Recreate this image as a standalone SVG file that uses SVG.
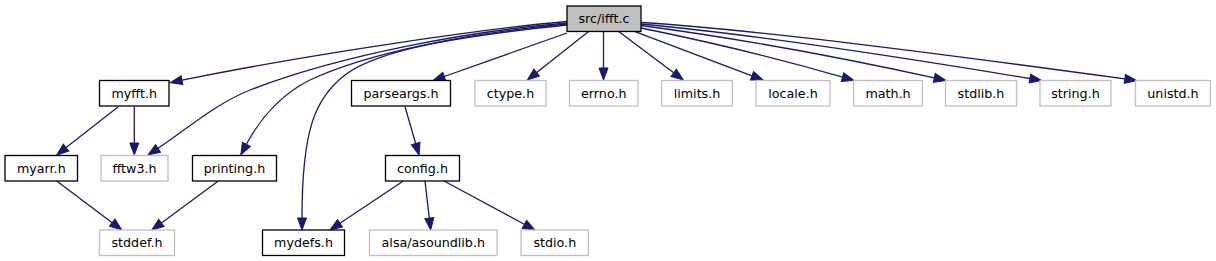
<svg xmlns="http://www.w3.org/2000/svg" width="1216" height="261" viewBox="0 0 1216 261">
<style>
.n rect{fill:#ffffff;stroke:#000000;stroke-width:1.3}
.x rect{fill:#ffffff;stroke:#bfbfbf;stroke-width:1.3}
.r rect{fill:#bfbfbf;stroke:#000000;stroke-width:1.3}
text{font-family:"DejaVu Sans",sans-serif;font-size:12.7px;fill:#000000;text-anchor:middle}
#edges path{fill:none;stroke:#191970;stroke-width:1.3;marker-end:url(#a)}
</style>
<defs>
<marker id="a" markerWidth="14" markerHeight="10" refX="0" refY="4.5" orient="auto" markerUnits="userSpaceOnUse" overflow="visible">
<path d="M0,0 L12,4.5 L0,9 z" fill="#191970" stroke="#191970" stroke-width="1"/>
</marker>
</defs>
<rect width="1216" height="261" fill="#ffffff"/>
<g id="edges">
<path d="M567,21.5 C500,27 320,52 182,80.2"/>
<path d="M567,23 C470,31 340,55 250,90 C215,104 188,128.4 158,148.4"/>
<path d="M567,24 C470,33 370,52 310,80 C285,92 262,115 246.4,144.3"/>
<path d="M567,25 C470,35 380,48 345,75 C315,98 302,130 302,218"/>
<path d="M567,33 L444.3,76.5"/>
<path d="M588.3,31.7 L536.7,72.6"/>
<path d="M603.5,31.7 L603.5,68"/>
<path d="M619,31.7 L673.7,72.8"/>
<path d="M635,31.7 L752,75.8"/>
<path d="M641,28 C700,40 760,53 842.5,77.1"/>
<path d="M641,25.5 C720,36 830,55 934.3,77.9"/>
<path d="M641,24 C740,33 900,57 1029.9,78.5"/>
<path d="M641,22.5 C760,30 950,55 1124.8,78.9"/>
<path d="M118.3,106.7 L66.1,147.6"/>
<path d="M134.3,106.7 L134.3,143"/>
<path d="M56.7,181 L112.2,222.7"/>
<path d="M218.3,181 L161.4,222.9"/>
<path d="M405,106.7 L415.7,143.5"/>
<path d="M403.3,181 L340,223.3"/>
<path d="M425,181 L429.3,218.1"/>
<path d="M444,181 L524.4,224.3"/>
</g>
<g id="root" class="r"><rect x="567" y="6" width="74" height="25.5"/><text x="604" y="23">src/ifft.c</text></g>
<g id="myfft" class="n"><rect x="99.5" y="80.5" width="69.5" height="25.5"/><text x="134.3" y="97.5">myfft.h</text></g>
<g id="parseargs" class="n"><rect x="351.5" y="80.5" width="99" height="25.5"/><text x="401" y="97.5">parseargs.h</text></g>
<g id="ctype" class="x"><rect x="475" y="80.5" width="71" height="25.5"/><text x="510.5" y="97.5">ctype.h</text></g>
<g id="errno" class="x"><rect x="569.5" y="80.5" width="68.5" height="25.5"/><text x="603.8" y="97.5">errno.h</text></g>
<g id="limits" class="x"><rect x="661.5" y="80.5" width="71" height="25.5"/><text x="697" y="97.5">limits.h</text></g>
<g id="locale" class="x"><rect x="756" y="80.5" width="74" height="25.5"/><text x="793" y="97.5">locale.h</text></g>
<g id="math" class="x"><rect x="853.5" y="80.5" width="69" height="25.5"/><text x="888" y="97.5">math.h</text></g>
<g id="stdlib" class="x"><rect x="945.5" y="80.5" width="71" height="25.5"/><text x="981" y="97.5">stdlib.h</text></g>
<g id="string" class="x"><rect x="1040" y="80.5" width="71" height="25.5"/><text x="1075.5" y="97.5">string.h</text></g>
<g id="unistd" class="x"><rect x="1135.5" y="80.5" width="75" height="25.5"/><text x="1173" y="97.5">unistd.h</text></g>
<g id="myarr" class="n"><rect x="5" y="155.5" width="72.5" height="25.5"/><text x="41.3" y="172.5">myarr.h</text></g>
<g id="fftw3" class="x"><rect x="101" y="155.5" width="67" height="25.5"/><text x="134.5" y="172.5">fftw3.h</text></g>
<g id="printing" class="n"><rect x="192.5" y="155.5" width="84" height="25.5"/><text x="234.5" y="172.5">printing.h</text></g>
<g id="config" class="n"><rect x="385.5" y="155.5" width="74" height="25.5"/><text x="422.5" y="172.5">config.h</text></g>
<g id="stddef" class="x"><rect x="99.5" y="230" width="75" height="25.5"/><text x="137" y="247">stddef.h</text></g>
<g id="mydefs" class="n"><rect x="262.5" y="230" width="82" height="25.5"/><text x="303.5" y="247">mydefs.h</text></g>
<g id="asoundlib" class="x"><rect x="369.5" y="230" width="127.5" height="25.5"/><text x="433.3" y="247">alsa/asoundlib.h</text></g>
<g id="stdio" class="x"><rect x="521" y="230" width="67.5" height="25.5"/><text x="554.8" y="247">stdio.h</text></g>
</svg>
